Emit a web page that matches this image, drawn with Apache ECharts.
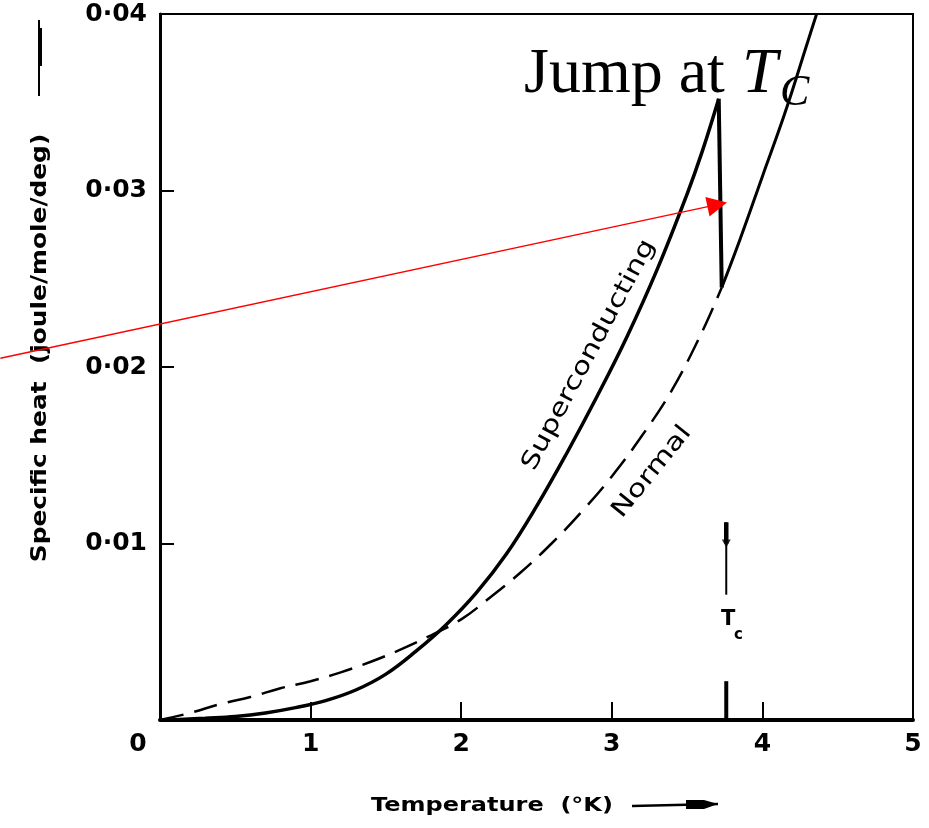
<!DOCTYPE html>
<html>
<head>
<meta charset="utf-8">
<script src="https://cdn.jsdelivr.net/npm/echarts@6/dist/echarts.min.js"></script>
<style>
html,body{margin:0;padding:0;background:#fff;}
#c{width:929px;height:828px;}
</style>
</head>
<body>
<div id="c"></div>
<script>
// ---- data ----
const xTickLabels = ['0', '1', '2', '3', '4', '5'];
const yTickLabels = ['', '0·01', '0·02', '0·03', '0·04'];

// Superconducting curve (solid) up to the peak at Tc
const scT = [0.07, 0.3, 0.5, 0.7, 0.9, 1.1, 1.3, 1.5, 1.7, 1.9, 2.1, 2.3, 2.5, 2.7, 2.9, 3.1, 3.3, 3.5, 3.6, 3.71];
const scC = [0.0, 0.0001, 0.0002, 0.0004, 0.0007, 0.0011, 0.0017, 0.0026, 0.0039, 0.0054, 0.0072, 0.0094, 0.0121, 0.0151, 0.0183, 0.0217, 0.0255, 0.0298, 0.0322, 0.0352];

// The jump down at Tc
const jumpT = [3.71, 3.73];
const jumpC = [0.0352, 0.0245];

// Normal curve below Tc (dashed)
const nT = [0.0, 0.2, 0.4, 0.6, 0.8, 1.0, 1.2, 1.4, 1.6, 1.8, 2.0, 2.2, 2.4, 2.6, 2.8, 3.0, 3.2, 3.4, 3.6, 3.73];
const nC = [0.0, 0.0004, 0.0009, 0.0013, 0.0018, 0.0022, 0.0027, 0.0033, 0.0040, 0.0048, 0.0057, 0.0070, 0.0084, 0.0100, 0.0118, 0.0138, 0.0161, 0.0187, 0.0220, 0.0245];

// Normal curve above Tc (solid)
const aT = [3.73, 3.85, 4.0, 4.15, 4.3, 4.36];
const aC = [0.0245, 0.0272, 0.0308, 0.0344, 0.0384, 0.0400];

// Tc marker
const tcT = 3.76;
const tcTick = [0, 0.0022];
const tcArrow = [0.0112, 0.0071];

// Red annotation arrow (data coordinates)
const arrowFrom = [-1.06, 0.0205];
const arrowTo = [3.70, 0.0292];

const zip = (a, b) => a.map((v, i) => [v, b[i]]);

const chart = echarts.init(document.getElementById('c'));
const labelFont = { fontFamily: 'DejaVu Sans', fontWeight: 'bold', fontSize: 25, color: '#000' };

chart.setOption({
  animation: false,
  backgroundColor: '#fff',
  grid: { left: 160, right: 16, top: 14, bottom: 108, show: true, borderColor: '#000', borderWidth: 2 },
  xAxis: {
    type: 'value', min: 0, max: 5, interval: 1,
    axisLine: { onZero: false, lineStyle: { color: '#000', width: 4 } },
    axisTick: { inside: true, length: 18, lineStyle: { color: '#000', width: 2 } },
    splitLine: { show: false },
    axisLabel: Object.assign({}, labelFont, {
      margin: 12,
      formatter: v => {
        const s = xTickLabels[Math.round(v)];
        return v === 0 ? '{z|' + s + '}' : s;
      },
      rich: { z: Object.assign({}, labelFont, { padding: [0, 44, 0, 0] }) }
    })
  },
  yAxis: {
    type: 'value', min: 0, max: 0.04, interval: 0.01,
    axisLine: { onZero: false, lineStyle: { color: '#000', width: 3 } },
    axisTick: { inside: true, length: 14, lineStyle: { color: '#000', width: 2 } },
    splitLine: { show: false },
    axisLabel: Object.assign({}, labelFont, {
      margin: 13,
      formatter: v => yTickLabels[Math.round(v * 100)]
    })
  },
  series: [
    {
      type: 'line', data: zip(nT, nC), showSymbol: false, smooth: 0.4,
      lineStyle: { color: '#000', width: 2.5, type: [24, 11] }, z: 3
    },
    {
      type: 'line', data: zip(scT, scC), showSymbol: false, smooth: 0.4,
      lineStyle: { color: '#000', width: 3.5 }, z: 4
    },
    {
      type: 'line', data: zip(jumpT, jumpC), showSymbol: false,
      lineStyle: { color: '#000', width: 4 }, z: 4
    },
    {
      type: 'line', data: zip(aT, aC), showSymbol: false, smooth: 0.4,
      lineStyle: { color: '#000', width: 3 }, z: 4
    },
    {
      type: 'line', data: [[tcT, tcTick[0]], [tcT, tcTick[1]]], showSymbol: false,
      lineStyle: { color: '#000', width: 4 }, z: 4
    },
    {
      type: 'line', data: [[tcT, tcArrow[0]], [tcT, tcArrow[1]]], showSymbol: false,
      lineStyle: { color: '#000', width: 2 }, z: 4
    },
    {
      type: 'line', data: [[tcT, tcArrow[0]], [tcT, tcArrow[0] - 0.0012]], showSymbol: false,
      lineStyle: { color: '#000', width: 4.5 }, z: 4
    },
    {
      type: 'scatter', data: [[tcT, tcArrow[0] - 0.0012]], symbol: 'triangle', symbolRotate: 180,
      symbolSize: [9, 8], itemStyle: { color: '#000' }, z: 5
    },
    {
      type: 'lines', coordinateSystem: 'cartesian2d', clip: false,
      symbol: ['none', 'triangle'], symbolSize: [17, 20],
      lineStyle: { color: '#ff0000', width: 1.5, opacity: 1, curveness: 0 },
      data: [{ coords: [arrowFrom, arrowTo] }], z: 10
    }
  ],
  graphic: [
    // Jump at T_C annotation
    { type: 'text', x: 524, y: 75, style: { text: 'Jump at', font: '64px "Liberation Serif"', fill: '#000', align: 'left', verticalAlign: 'middle' }, z: 20 },
    { type: 'text', x: 742, y: 75, style: { text: 'T', font: 'italic 64px "Liberation Serif"', fill: '#000', align: 'left', verticalAlign: 'middle' }, z: 20 },
    { type: 'text', x: 780, y: 93, style: { text: 'C', font: 'italic 44px "Liberation Serif"', fill: '#000', align: 'left', verticalAlign: 'middle' }, z: 20 },
    // curve labels
    { type: 'text', x: 589, y: 355, rotation: 62 * Math.PI / 180, scaleX: 1.27,
      style: { text: 'Superconducting', font: '24px "DejaVu Sans"', fill: '#000', align: 'center', verticalAlign: 'middle' } },
    { type: 'text', x: 652, y: 472, rotation: 51 * Math.PI / 180, scaleX: 1.28,
      style: { text: 'Normal', font: '24px "DejaVu Sans"', fill: '#000', align: 'center', verticalAlign: 'middle' } },
    // Tc label
    { type: 'text', x: 721, y: 620, style: { text: 'T', font: 'bold 21px "DejaVu Sans"', fill: '#000', align: 'left', verticalAlign: 'middle' } },
    { type: 'text', x: 734, y: 635, style: { text: 'c', font: 'bold 15px "DejaVu Sans"', fill: '#000', align: 'left', verticalAlign: 'middle' } },
    // Y axis title with arrow
    { type: 'text', x: 40, y: 348, rotation: Math.PI / 2, scaleX: 1.13,
      style: { text: 'Specific heat  (joule/mole/deg)', font: 'bold 22px "DejaVu Sans"', fill: '#000', align: 'center', verticalAlign: 'middle' } },
    { type: 'line', shape: { x1: 39, y1: 96, x2: 39, y2: 20 }, style: { stroke: '#000', lineWidth: 2 } },
    { type: 'line', shape: { x1: 40, y1: 66, x2: 40, y2: 28 }, style: { stroke: '#000', lineWidth: 4 } },
    // X axis title with arrow
    { type: 'text', x: 492, y: 806, scaleX: 1.2,
      style: { text: 'Temperature  (°K)', font: 'bold 20px "DejaVu Sans"', fill: '#000', align: 'center', verticalAlign: 'middle' } },
    { type: 'line', shape: { x1: 632, y1: 806, x2: 718, y2: 804 }, style: { stroke: '#000', lineWidth: 2.5 } },
    { type: 'polygon', shape: { points: [[686, 800], [704, 800], [718, 804], [704, 809], [686, 809]] }, style: { fill: '#000' } }
  ]
});
</script>
</body>
</html>
